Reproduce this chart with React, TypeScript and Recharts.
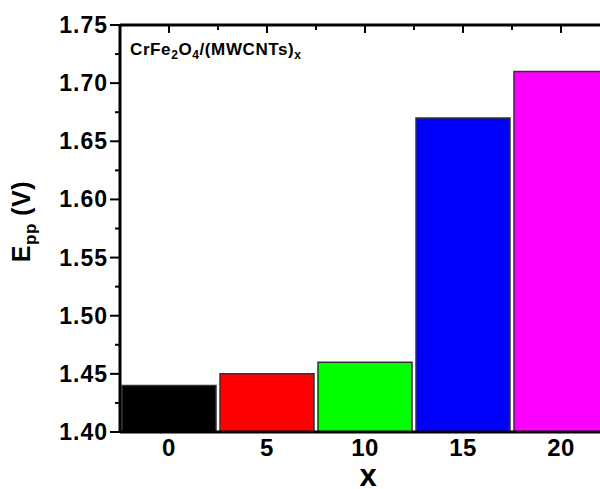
import React from 'react';
import { BarChart, Bar, XAxis, YAxis, Cell, Label } from 'recharts';

const xLabels = ['0', '5', '10', '15', '20'];
const eppValues = [1.44, 1.45, 1.46, 1.67, 1.71];
const barColors = ['#000000', '#ff0000', '#00ff00', '#0000ff', '#ff00ff'];

const yMajorTicks = [1.4, 1.45, 1.5, 1.55, 1.6, 1.65, 1.7, 1.75];
const yMinorTicks = [1.425, 1.475, 1.525, 1.575, 1.625, 1.675, 1.725];
const topMajorTicks = [0, 1, 2, 3, 4];
const topMinorTicks = [0.5, 1.5, 2.5, 3.5, 4.5];

const data = xLabels.map((x, i) => ({ x, idx: i, epp: eppValues[i] }));

const FONT = '"Liberation Sans", Arial, sans-serif';

const isIn = (list: number[], v: number) => list.some(t => Math.abs(t - v) < 1e-6);

const YTick = (props: any) => {
  const { x, y, payload } = props;
  const major = isIn(yMajorTicks, payload.value);
  const axisX = x + 13;
  return (
    <g>
      <line x1={axisX - (major ? 10 : 5)} x2={axisX} y1={y} y2={y} stroke="#000" strokeWidth={2} />
      {major && (
        <text x={x + 1} y={y} dy={8} textAnchor="end" fontSize={23} letterSpacing={1} fontWeight="bold" fill="#000">
          {payload.value.toFixed(2)}
        </text>
      )}
    </g>
  );
};

const XTick = (props: any) => {
  const { x, y, payload } = props;
  return (
    <text x={x} y={y} dy={17} textAnchor="middle" fontSize={24} letterSpacing={0.5} fontWeight="bold" fill="#000">
      {payload.value}
    </text>
  );
};

const TopTick = (props: any) => {
  const { x, y, payload } = props;
  const major = isIn(topMajorTicks, payload.value);
  return <line x1={x} x2={x} y1={y} y2={y + (major ? 8 : 5)} stroke="#000" strokeWidth={2} />;
};

const YTitle = (props: any) => {
  const { viewBox } = props;
  const cx = viewBox.x + 30;
  const cy = viewBox.y + viewBox.height / 2 - 7;
  return (
    <text x={cx} y={cy} transform={`rotate(-90 ${cx} ${cy})`} textAnchor="middle" fontSize={25} letterSpacing={0.5} fontWeight="bold" fill="#000">
      E<tspan dy={6} fontSize={17}>pp</tspan>
      <tspan dy={-6}> (V)</tspan>
    </text>
  );
};

const XTitle = (props: any) => {
  const { viewBox } = props;
  return (
    <text x={viewBox.x + viewBox.width / 2 + 3} y={viewBox.y + 54} textAnchor="middle" fontSize={31} fontWeight="bold" fill="#000">
      x
    </text>
  );
};

const Annotation = (props: any) => {
  const { viewBox } = props;
  return (
    <text x={viewBox.x + 10} y={viewBox.y + 31} fontSize={17} letterSpacing={0.6} fontWeight="bold" fill="#000">
      CrFe<tspan dy={4} fontSize={12}>2</tspan>
      <tspan dy={-4}>O</tspan>
      <tspan dy={4} fontSize={12}>4</tspan>
      <tspan dy={-4}>/(MWCNTs)</tspan>
      <tspan dy={4} fontSize={12}>x</tspan>
    </text>
  );
};

export default function App() {
  return (
    <div style={{ position: 'absolute', left: 0, top: 0, width: 600, height: 489, overflow: 'hidden', background: '#fff', fontFamily: FONT }}>
      <BarChart width={620} height={489} data={data} margin={{ top: 24, right: 10, left: 0, bottom: 0 }} barCategoryGap={2}>
        <XAxis
          dataKey="x"
          height={57}
          interval={0}
          tickSize={0}
          tickMargin={7}
          tickLine={false}
          axisLine={{ stroke: '#000', strokeWidth: 3 }}
          tick={<XTick />}
        >
          <Label content={<XTitle />} />
        </XAxis>
        <XAxis
          xAxisId="top"
          orientation="top"
          type="number"
          dataKey="idx"
          domain={[-0.5, 4.5]}
          allowDataOverflow
          ticks={[...topMajorTicks, ...topMinorTicks]}
          interval={0}
          height={1}
          tickSize={0}
          tickMargin={0}
          tickLine={false}
          axisLine={{ stroke: '#000', strokeWidth: 3 }}
          tick={<TopTick />}
        >
          <Label content={<Annotation />} />
        </XAxis>
        <YAxis
          type="number"
          domain={[1.4, 1.75]}
          allowDataOverflow
          ticks={[...yMajorTicks, ...yMinorTicks]}
          interval={0}
          width={120}
          tickSize={0}
          tickMargin={13}
          tickLine={false}
          axisLine={{ stroke: '#000', strokeWidth: 3 }}
          tick={<YTick />}
        >
          <Label content={<YTitle />} />
        </YAxis>
        <Bar dataKey="epp" stroke="#333" strokeWidth={1.5} isAnimationActive={false}>
          {data.map((d, i) => (
            <Cell key={d.x} fill={barColors[i]} />
          ))}
        </Bar>
      </BarChart>
    </div>
  );
}
